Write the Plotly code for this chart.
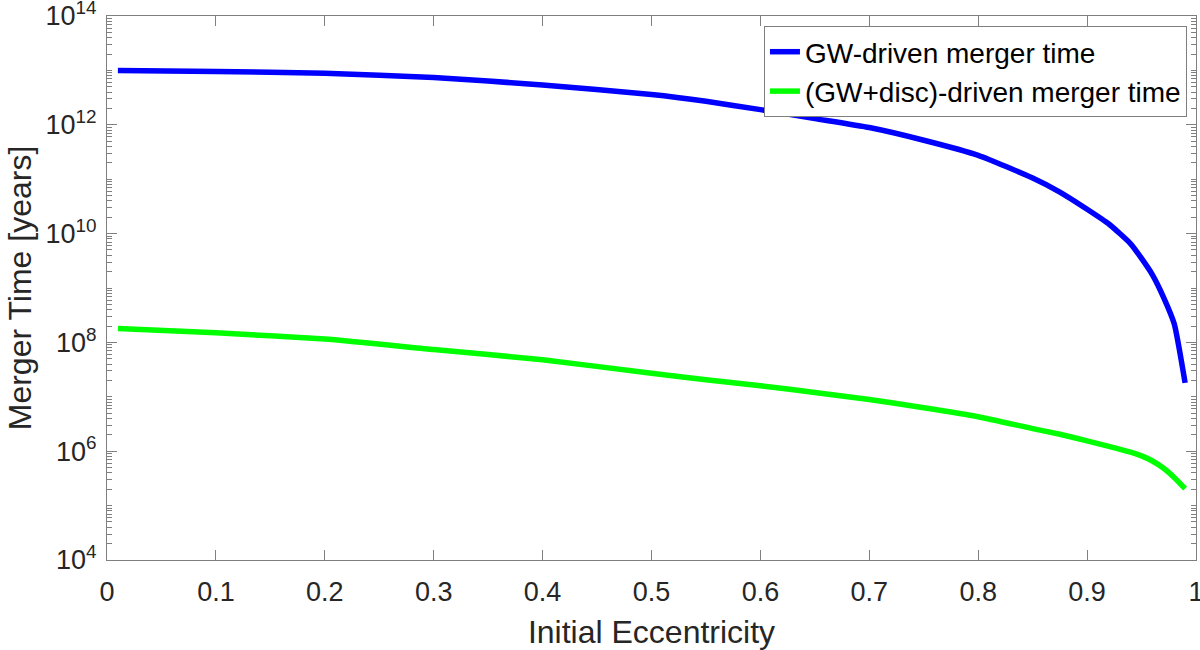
import plotly.graph_objects as go

ecc = [0.01, 0.1, 0.2, 0.3, 0.4, 0.5, 0.55, 0.6, 0.65, 0.7, 0.75, 0.8, 0.85, 0.875,
       0.9, 0.92, 0.94, 0.95, 0.96, 0.97, 0.98, 0.99]
t_gw = [1.0e13, 9.5e12, 8.9e12, 7.4e12, 5.4e12, 3.6e12, 2.7e12, 1.9e12, 1.3e12, 8.9e11,
        5.2e11, 2.75e11, 1.05e11, 5.8e10, 2.8e10, 1.5e10, 6.5e9, 3.5e9, 1.75e9, 6.9e8,
        2.2e8, 1.8e7]
t_disc = [1.8e8, 1.5e8, 1.15e8, 7.4e7, 4.8e7, 2.7e7, 2.05e7, 1.6e7, 1.2e7, 8.9e6,
          6.3e6, 4.3e6, 2.6e6, 2.05e6, 1.55e6, 1.23e6, 9.6e5, 8.2e5, 6.6e5, 4.9e5,
          3.3e5, 2.05e5]

x_ticks = [0, 0.1, 0.2, 0.3, 0.4, 0.5, 0.6, 0.7, 0.8, 0.9, 1]
x_tick_text = ["0", "0.1", "0.2", "0.3", "0.4", "0.5", "0.6", "0.7", "0.8", "0.9", "1"]
y_ticks = [1e4, 1e6, 1e8, 1e10, 1e12, 1e14]
y_tick_text = ["10<sup>4</sup>", "10<sup>6</sup>", "10<sup>8</sup>", "10<sup>10</sup>",
               "10<sup>12</sup>", "10<sup>14</sup>"]

FONT = "Liberation Sans, Arial, sans-serif"
TXT = "#262626"
AX = "#7f7f7f"

fig = go.Figure()
fig.add_trace(go.Scatter(x=ecc, y=t_gw, mode="lines", name="GW-driven merger time",
                         line=dict(color="#0000ff", width=5.5, shape="spline", smoothing=0.5)))
fig.add_trace(go.Scatter(x=ecc, y=t_disc, mode="lines", name="(GW+disc)-driven merger time",
                         line=dict(color="#00ff00", width=5.5, shape="spline", smoothing=0.5)))

fig.update_layout(
    width=1200, height=650,
    margin=dict(l=107, r=4, t=16, b=90, autoexpand=False),
    paper_bgcolor="white", plot_bgcolor="white",
    font=dict(family=FONT, color=TXT, size=27),
    showlegend=True,
    legend=dict(x=0.9917, y=0.9816, xanchor="right", yanchor="top",
                bgcolor="white", bordercolor=AX, borderwidth=1,
                font=dict(size=28, color="black"), tracegroupgap=0,
                itemwidth=30),
)
fig.update_xaxes(
    range=[0, 1], tickvals=x_ticks, ticktext=x_tick_text, automargin=False,
    showgrid=False, zeroline=False, showline=True, linecolor=AX, linewidth=1,
    mirror="ticks", ticks="inside", ticklen=10, tickcolor=AX,
    tickfont=dict(size=27, color=TXT), ticklabelstandoff=8, ticklabeloverflow="allow",
    title=dict(text="Initial Eccentricity", font=dict(size=32, color=TXT), standoff=14),
)
fig.update_yaxes(
    type="log", range=[4, 14], tickvals=y_ticks, ticktext=y_tick_text, automargin=False,
    showgrid=False, zeroline=False, showline=True, linecolor=AX, linewidth=1,
    mirror="ticks", ticks="inside", ticklen=10, tickcolor=AX,
    tickfont=dict(size=27, color=TXT), ticklabelstandoff=4, ticklabeloverflow="allow",
    minor=dict(ticks="inside", ticklen=5, tickcolor=AX, dtick="D1", showgrid=False),
    title=dict(text="Merger Time [years]", font=dict(size=32, color=TXT), standoff=4),
)

fig.write_html("out.html", config={"displayModeBar": False},
               post_script="document.body.style.margin='0px';")
